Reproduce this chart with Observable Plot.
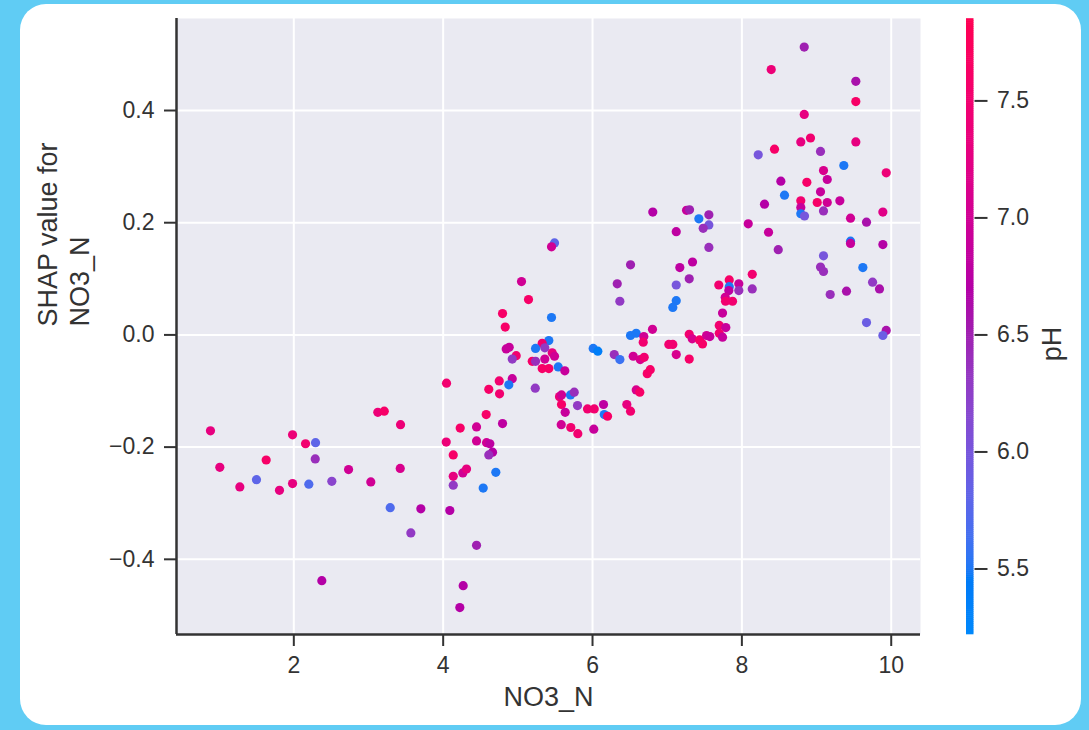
<!DOCTYPE html>
<html>
<head>
<meta charset="utf-8">
<script src="https://cdn.jsdelivr.net/npm/d3@7"></script>
<script src="https://cdn.jsdelivr.net/npm/@observablehq/plot@0.6"></script>
<style>
html,body{margin:0;padding:0;background:#60ccf4;width:1089px;height:730px;overflow:hidden;position:relative;}
#card{position:absolute;left:20px;top:4px;width:1061px;height:721px;background:#fff;border-radius:26px;}
#main{position:absolute;left:0;top:0;}
#cbar{position:absolute;left:900px;top:0;}
</style>
</head>
<body>
<div id="card"></div>
<div id="main"></div>
<div id="cbar"></div>
<script>
// NO3_N feature value (x)
const no3 = [0.884,1.009,1.277,1.500,1.630,1.808,1.983,1.983,2.157,2.291,2.287,2.201,2.509,2.375,2.733,3.031,3.125,3.211,3.429,3.425,3.291,3.701,3.567,4.041,4.228,4.135,4.135,4.135,4.263,4.313,4.089,4.268,4.223,4.447,
6.509,6.331,6.366,5.049,5.143,5.451,4.795,4.831,6.509,6.585,6.687,6.679,5.415,5.326,5.237,5.361,5.460,5.491,5.361,5.193,5.237,5.326,5.415,5.541,5.629,4.844,4.884,4.978,4.925,6.009,6.071,6.291,6.366,6.545,6.639,6.692,6.733,6.773,
4.925,4.879,4.751,4.611,4.755,4.045,5.233,5.558,5.585,5.705,5.755,5.585,5.799,5.634,5.933,6.023,6.147,6.157,6.201,6.459,6.509,6.585,6.633,5.581,5.709,5.803,6.017,4.576,4.795,4.447,4.447,4.581,4.625,4.661,4.611,4.705,4.536,
5.491,5.451,
8.522,8.571,8.303,8.085,8.357,8.487,6.807,7.259,7.299,7.424,7.558,7.558,7.482,7.121,7.558,7.339,7.169,7.295,7.121,7.121,7.075,8.139,7.691,7.831,7.831,7.959,7.959,8.139,7.825,7.777,7.781,7.875,7.741,7.697,7.785,7.697,7.741,7.295,7.335,7.433,7.473,7.527,7.571,6.803,7.022,7.075,7.121,7.295,
8.835,8.393,9.526,9.526,8.835,8.919,8.789,9.526,8.437,9.053,8.219,9.365,9.933,9.093,9.143,8.870,9.053,8.789,9.009,9.143,9.312,8.789,8.789,8.839,9.093,9.455,9.669,9.888,9.455,9.455,9.888,9.093,9.053,9.093,9.620,9.750,9.843,9.183,9.401,9.669,9.933,9.888];

// SHAP value for NO3_N (y)
const shap = [-0.171,-0.236,-0.271,-0.258,-0.223,-0.277,-0.178,-0.265,-0.194,-0.192,-0.221,-0.266,-0.261,-0.438,-0.240,-0.262,-0.138,-0.136,-0.160,-0.238,-0.308,-0.310,-0.353,-0.191,-0.166,-0.214,-0.252,-0.268,-0.246,-0.239,-0.313,-0.447,-0.486,-0.375,
0.125,0.091,0.060,0.095,0.063,0.031,0.038,0.014,-0.001,0.003,-0.003,-0.013,-0.010,-0.015,-0.024,-0.023,-0.032,-0.038,-0.043,-0.047,-0.047,-0.060,-0.060,-0.057,-0.064,-0.025,-0.022,-0.037,-0.043,-0.024,-0.029,-0.035,-0.044,-0.038,-0.044,-0.040,-0.069,-0.062,
-0.078,-0.089,-0.082,-0.097,-0.105,-0.086,-0.095,-0.110,-0.107,-0.107,-0.102,-0.124,-0.126,-0.138,-0.132,-0.132,-0.124,-0.142,-0.145,-0.124,-0.136,-0.098,-0.102,-0.160,-0.165,-0.176,-0.168,-0.142,-0.158,-0.164,-0.189,-0.192,-0.194,-0.209,-0.214,-0.245,-0.273,
0.164,0.157,
0.274,0.249,0.233,0.198,0.183,0.152,0.219,0.222,0.223,0.207,0.214,0.196,0.190,0.184,0.156,0.130,0.120,0.100,0.089,0.061,0.049,0.108,0.089,0.098,0.086,0.091,0.079,0.082,0.079,0.067,0.060,0.060,0.039,0.017,0.013,0.003,-0.004,0.001,-0.007,-0.009,-0.016,-0.001,-0.003,0.010,-0.017,-0.017,-0.035,-0.043,
0.513,0.473,0.452,0.416,0.393,0.351,0.344,0.344,0.331,0.327,0.321,0.302,0.289,0.293,0.277,0.272,0.255,0.239,0.236,0.236,0.239,0.227,0.216,0.212,0.221,0.208,0.201,0.219,0.167,0.163,0.161,0.141,0.121,0.113,0.120,0.094,0.082,0.072,0.078,0.022,0.008,-0.001];

// pH (colour)
const ph = [7.3,7.3,7.3,5.8,7.6,7.3,7.4,7.3,7.5,5.8,6.4,5.7,6.2,6.7,7.0,7.0,7.4,7.6,7.4,7.1,5.7,6.7,6.3,7.4,7.6,7.6,7.3,6.3,7.0,7.3,6.7,6.7,6.7,6.5,
6.5,6.5,6.3,7.0,7.6,5.5,7.6,7.6,5.5,5.5,7.0,7.5,5.5,7.5,5.5,6.3,7.3,7.0,7.0,7.6,6.4,7.6,7.6,5.5,6.9,6.9,6.9,7.5,6.3,5.5,5.4,6.4,5.6,7.0,7.1,7.5,7.6,7.6,
6.9,5.5,7.5,7.6,7.5,7.5,6.3,7.4,7.0,5.5,6.4,7.6,6.3,6.9,7.5,7.5,6.8,5.5,7.6,7.3,7.5,7.1,7.6,7.0,7.5,7.5,6.9,7.6,6.8,7.0,7.0,7.0,6.8,6.7,6.4,5.5,5.5,
5.8,7.0,
6.7,5.5,6.7,6.9,6.9,6.5,6.7,6.9,6.5,5.5,6.5,6.0,6.4,6.8,6.4,6.8,6.8,6.5,6.0,5.5,5.5,7.5,7.5,7.6,5.5,6.9,6.4,6.4,6.8,7.0,7.5,7.5,6.9,7.5,6.9,7.5,6.9,7.5,7.1,7.6,7.6,7.0,6.9,7.0,7.5,7.5,7.1,7.6,
6.5,7.4,6.6,7.6,7.3,7.5,7.3,7.3,7.6,6.4,6.0,5.5,7.4,7.1,6.9,7.6,6.9,7.5,7.6,7.0,6.9,6.9,5.5,6.0,6.4,7.0,6.6,7.2,5.5,6.9,6.7,6.0,6.4,6.4,5.5,6.3,6.6,6.4,6.6,5.9,6.6,5.9];

const xTicks = [2, 4, 6, 8, 10];
const yTicks = [-0.4, -0.2, 0.0, 0.2, 0.4];
const phTicks = [5.5, 6.0, 6.5, 7.0, 7.5];
const xDomain = [0.429, 10.392];
const yDomain = [-0.534, 0.564];
const phDomain = [5.22, 7.85];

const data = no3.map((v, i) => ({no3: v, shap: shap[i], ph: ph[i]}));

// SHAP "red_blue" colormap: LCH interpolation blue -> red
function redBlue(t) {
  t = Math.max(0, Math.min(1, t));
  const bL = 54, bC = 70, bH = 4.6588 * 180 / Math.PI;
  const rL = 54, rC = 90, rH = (0.35470565 + 2 * Math.PI) * 180 / Math.PI;
  const lMid = 40;
  const l = t < 0.5 ? bL + (lMid - bL) * (t / 0.5) : lMid + (rL - lMid) * ((t - 0.5) / 0.5);
  const c = bC + (rC - bC) * t;
  const h = bH + (rH - bH) * t;
  return d3.hcl(h, c, l).formatRgb();
}
const colorScale = {type: "linear", domain: phDomain, interpolate: redBlue};
const font = "'Liberation Sans', Arial, Helvetica, sans-serif";
const ink = "#333";

const main = Plot.plot({
  width: 1089, height: 730,
  marginLeft: 176, marginRight: 169, marginTop: 18, marginBottom: 96,
  style: {background: "transparent", fontFamily: font, color: ink},
  x: {domain: xDomain},
  y: {domain: yDomain},
  color: colorScale,
  marks: [
    Plot.frame({fill: "#eaeaf2", stroke: "none"}),
    Plot.gridX(xTicks, {stroke: "#fff", strokeOpacity: 1, strokeWidth: 2}),
    Plot.gridY(yTicks, {stroke: "#fff", strokeOpacity: 1, strokeWidth: 2}),
    Plot.dot(data, {x: "no3", y: "shap", fill: "ph", r: 4.6}),
    Plot.ruleX([xDomain[0]], {stroke: ink, strokeWidth: 2.5}),
    Plot.ruleY([yDomain[0]], {stroke: ink, strokeWidth: 2.5}),
    Plot.axisX(xTicks, {tickSize: 12, tickPadding: 10, fontSize: 23, stroke: ink, fill: ink, strokeWidth: 2, label: null, tickFormat: d3.format("d")}),
    Plot.axisY(yTicks, {tickSize: 12, tickPadding: 10, fontSize: 23, stroke: ink, fill: ink, strokeWidth: 2, label: null, tickFormat: d3.format(".1f")}),
    Plot.text(["NO3_N"], {text: d => d, frameAnchor: "bottom", dy: 71, fontSize: 27, fill: ink}),
    Plot.text(["SHAP value for\nNO3_N"], {text: d => d, frameAnchor: "left", dx: -114, rotate: -90, fontSize: 27, lineHeight: 1.2, fill: ink})
  ]
});
document.getElementById("main").appendChild(main);

const N = 300;
const steps = d3.range(N).map(i => {
  const lo = phDomain[0] + (phDomain[1] - phDomain[0]) * i / N;
  const hi = phDomain[0] + (phDomain[1] - phDomain[0]) * (i + 1) / N;
  return {lo, hi, mid: (lo + hi) / 2};
});

const cbar = Plot.plot({
  width: 189, height: 730,
  marginLeft: 66, marginRight: 115.5, marginTop: 18.5, marginBottom: 96,
  style: {background: "transparent", fontFamily: font, color: ink},
  y: {domain: phDomain},
  color: colorScale,
  marks: [
    Plot.barY(steps, {y1: "lo", y2: "hi", fill: "mid", insetTop: -0.3, insetBottom: -0.3}),
    Plot.axisY(phTicks, {anchor: "right", tickSize: 13, tickPadding: 10, fontSize: 23, stroke: ink, fill: ink, strokeWidth: 2, label: null, tickFormat: d3.format(".1f")}),
    Plot.text(["pH"], {text: d => d, frameAnchor: "right", dx: 78, rotate: -90, fontSize: 27, fill: ink})
  ]
});
document.getElementById("cbar").appendChild(cbar);
</script>
</body>
</html>
